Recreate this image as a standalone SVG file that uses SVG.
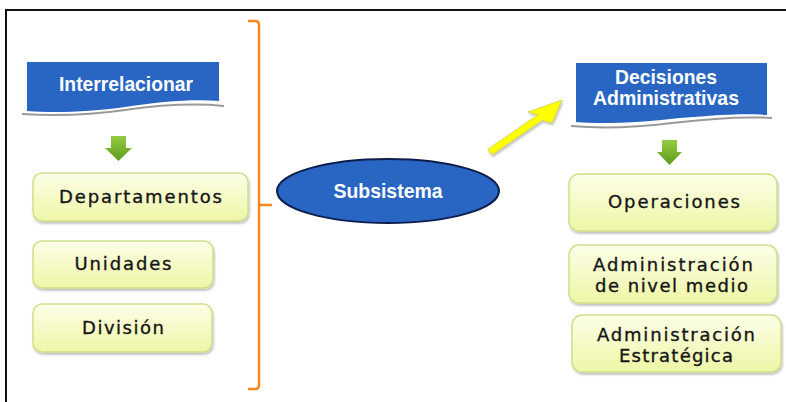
<svg xmlns="http://www.w3.org/2000/svg" width="786" height="402" viewBox="0 0 786 402">
<defs>
<linearGradient id="boxg" x1="0" y1="0" x2="0" y2="1">
<stop offset="0" stop-color="#fdfee8"/>
<stop offset="1" stop-color="#eef6a6"/>
</linearGradient>
<linearGradient id="arrg" x1="0" y1="0" x2="0" y2="1">
<stop offset="0" stop-color="#92cc3f"/>
<stop offset="1" stop-color="#5e9c1e"/>
</linearGradient>
<filter id="sh" x="-10%" y="-10%" width="120%" height="130%">
<feDropShadow dx="1" dy="2" stdDeviation="1.2" flood-color="#000" flood-opacity="0.25"/>
</filter>
</defs>
<style>
.box{fill:url(#boxg);stroke:#cfe08a;stroke-width:1.5;filter:url(#sh)}
.bt{font-family:"DejaVu Sans",Verdana,sans-serif;font-size:18px;fill:#161616;stroke:#161616;stroke-width:0.35;text-anchor:middle}
.ban{fill:#2966c3}
.banline{fill:none;stroke:#9a9a9a;stroke-width:2}
.wt{font-family:"Liberation Sans",Arial,sans-serif;font-weight:bold;font-size:21px;fill:#ffffff;text-anchor:middle}
.garrow{fill:url(#arrg)}
</style>
<rect width="786" height="402" fill="#ffffff"/>
<path d="M6,402 V10 H786" fill="none" stroke="#111" stroke-width="2"/>

<g id="connectors">
<path d="M248,21 H255 Q259,21 259,25 V385 Q259,389 255,389 H248 M259,205 H272" fill="none" stroke="#f7861f" stroke-width="2.5"/>
<polygon points="487.9,149.2 537.9,114.7 528,112 562,100 552,123 542.1,120.3 492,154.8" fill="#ffff00" stroke="#cfcf4a" stroke-width="0.8" filter="url(#sh)"/>
<polygon class="garrow" points="111,136 126,136 126,148 132,148 118.5,161 105,148 111,148"/>
<polygon class="garrow" points="662,140 677,140 677,152 682,152 669.5,165 657,152 662,152"/>
</g>

<g id="interrelacionar">
<path class="ban" d="M27,62 H219 V101 C190,99 160,102 125,107 C90,112 55,113 27,111 Z"/>
<path class="banline" d="M22,114 C55,116 90,115 125,110 C160,105 195,103 224,106"/>
<text class="wt" x="126" y="91" textLength="134" lengthAdjust="spacingAndGlyphs">Interrelacionar</text>
</g>

<g id="departamentos">
<rect class="box" x="33" y="173" width="215" height="48" rx="9"/>
<text class="bt" x="140.5" y="203" textLength="163">Departamentos</text>
</g>
<g id="unidades">
<rect class="box" x="33" y="241" width="180" height="47" rx="9"/>
<text class="bt" x="123" y="270" textLength="97">Unidades</text>
</g>
<g id="division">
<rect class="box" x="33" y="304" width="179" height="48" rx="9"/>
<text class="bt" x="123" y="334" textLength="82">División</text>
</g>

<g id="subsistema">
<ellipse cx="388" cy="191" rx="111" ry="32" fill="#2966c3" stroke="#0e1f4d" stroke-width="2"/>
<text class="wt" x="388" y="198" textLength="109" lengthAdjust="spacingAndGlyphs">Subsistema</text>
</g>

<g id="decisiones">
<path class="ban" d="M576,63 H767 V115 C740,113 705,116 670,119 C635,123 600,124 576,122 Z"/>
<path class="banline" d="M571,126 C605,129 640,127 672,123 C705,119 740,116 772,118"/>
<text class="wt" x="666" y="84" textLength="102" lengthAdjust="spacingAndGlyphs">Decisiones</text>
<text class="wt" x="666" y="105" textLength="146" lengthAdjust="spacingAndGlyphs">Administrativas</text>
</g>

<g id="operaciones">
<rect class="box" x="569" y="174" width="208" height="57" rx="10"/>
<text class="bt" x="674" y="208" textLength="132">Operaciones</text>
</g>
<g id="nivel-medio">
<rect class="box" x="569" y="245" width="208" height="58" rx="10"/>
<text class="bt" x="673" y="271" textLength="160">Administración</text>
<text class="bt" x="671.5" y="292" textLength="153">de nivel medio</text>
</g>
<g id="estrategica">
<rect class="box" x="572" y="315" width="209" height="57" rx="10"/>
<text class="bt" x="676" y="341" textLength="158">Administración</text>
<text class="bt" x="676" y="362" textLength="114">Estratégica</text>
</g>
</svg>
